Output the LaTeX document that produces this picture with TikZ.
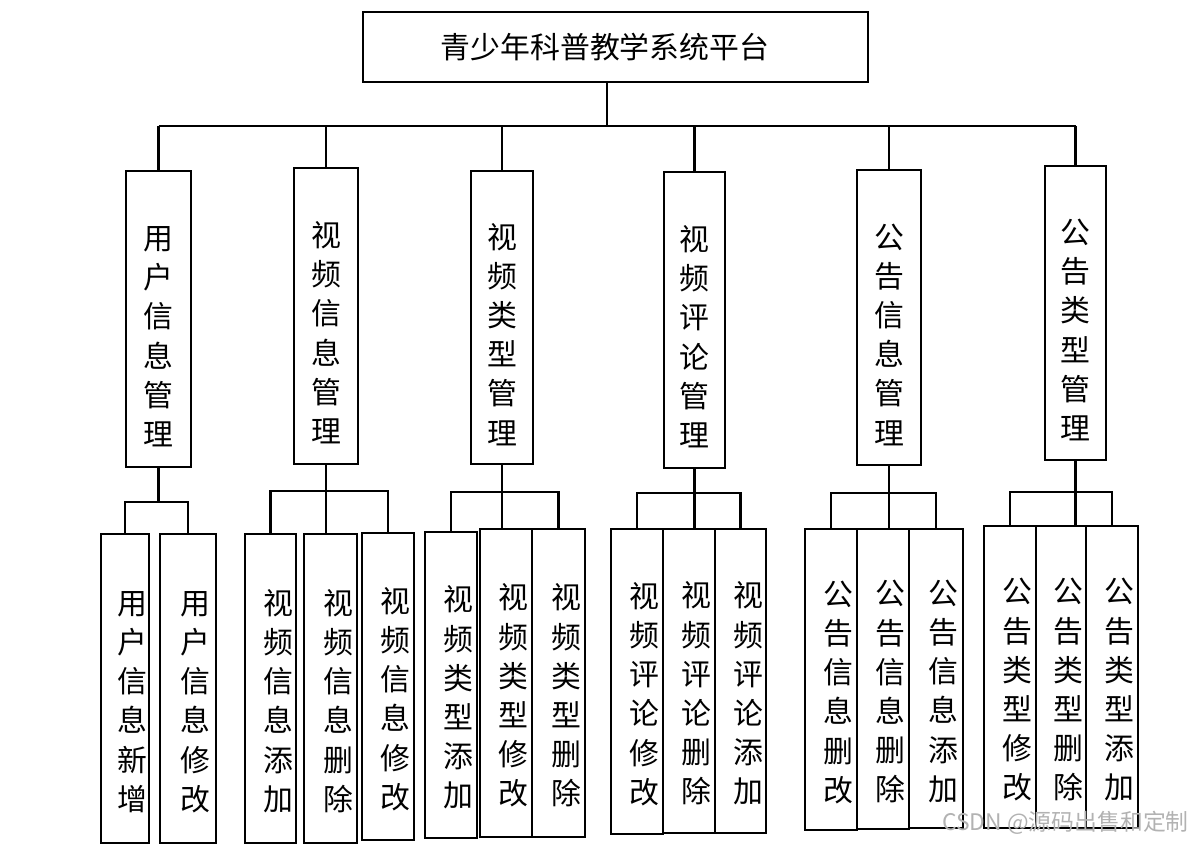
\documentclass[tikz,border=0pt]{standalone}
\usepackage{fontspec}
\newfontfamily\cjk{Noto Sans CJK SC}
\usetikzlibrary{positioning}
\newlength\pxu
\setlength\pxu{0.02cm}

\tikzset{
  box/.style={draw,line width=1.3pt,inner sep=0pt,font=\cjk\fontsize{17}{22.3}\selectfont},
  mgr/.style={box,align=center,text depth=0pt,text height=144pt},
  leaf/.style={box,text width=26pt,align=right,text depth=84.4pt,text height=0pt}
}

\begin{document}
\begin{tikzpicture}[x=0.02cm,y=-0.02cm]
\useasboundingbox (0,0) rectangle (1197,844);
% top
\node[box,minimum width=505\pxu,minimum height=70\pxu,text width=199pt,align=left] (plat) at (615.5,47) {青少年科普教学系统平台};
% second level
\node[mgr,minimum width=65\pxu,minimum height=296\pxu] (user) at (158.5,319) {用\\户\\信\\息\\管\\理};
\node[mgr,minimum width=64\pxu,minimum height=296\pxu] (vinfo) at (326,316) {视\\频\\信\\息\\管\\理};
\node[mgr,minimum width=62\pxu,minimum height=293\pxu] (vtype) at (502,317.5) {视\\频\\类\\型\\管\\理};
\node[mgr,minimum width=61\pxu,minimum height=296\pxu] (vcomm) at (694.5,320) {视\\频\\评\\论\\管\\理};
\node[mgr,minimum width=64\pxu,minimum height=295\pxu] (ninfo) at (889,317.5) {公\\告\\信\\息\\管\\理};
\node[mgr,minimum width=61\pxu,minimum height=294\pxu] (ntype) at (1075.5,313) {公\\告\\类\\型\\管\\理};
% third level
\node[leaf,minimum width=48\pxu,minimum height=309\pxu] (user1) at (125,688.5) {用\\户\\信\\息\\新\\增};
\node[leaf,minimum width=56\pxu,minimum height=309\pxu] (user2) at (188,688.5) {用\\户\\信\\息\\修\\改};
\node[leaf,minimum width=51\pxu,minimum height=309\pxu] (vinfo1) at (270.5,688.5) {视\\频\\信\\息\\添\\加};
\node[leaf,minimum width=53\pxu,minimum height=309\pxu] (vinfo2) at (330.5,688.5) {视\\频\\信\\息\\删\\除};
\node[leaf,minimum width=52\pxu,minimum height=307\pxu] (vinfo3) at (388,686.5) {视\\频\\信\\息\\修\\改};
\node[leaf,minimum width=52\pxu,minimum height=306\pxu] (vtype1) at (451,685) {视\\频\\类\\型\\添\\加};
\node[leaf,minimum width=52\pxu,minimum height=308\pxu] (vtype2) at (506,683) {视\\频\\类\\型\\修\\改};
\node[leaf,minimum width=53\pxu,minimum height=308\pxu] (vtype3) at (558.5,683) {视\\频\\类\\型\\删\\除};
\node[leaf,minimum width=52\pxu,minimum height=305\pxu] (vcomm1) at (637,681.5) {视\\频\\评\\论\\修\\改};
\node[leaf,minimum width=52\pxu,minimum height=304\pxu] (vcomm2) at (689,681) {视\\频\\评\\论\\删\\除};
\node[leaf,minimum width=51\pxu,minimum height=304\pxu] (vcomm3) at (740.5,681) {视\\频\\评\\论\\添\\加};
\node[leaf,minimum width=52\pxu,minimum height=301\pxu] (ninfo1) at (831,679.5) {公\\告\\信\\息\\删\\改};
\node[leaf,minimum width=52\pxu,minimum height=300\pxu] (ninfo2) at (883,679) {公\\告\\信\\息\\删\\除};
\node[leaf,minimum width=54\pxu,minimum height=299\pxu] (ninfo3) at (936,678.5) {公\\告\\信\\息\\添\\加};
\node[leaf,minimum width=52\pxu,minimum height=302\pxu] (ntype1) at (1010,677) {公\\告\\类\\型\\修\\改};
\node[leaf,minimum width=50\pxu,minimum height=302\pxu] (ntype2) at (1061,677) {公\\告\\类\\型\\删\\除};
\node[leaf,minimum width=52\pxu,minimum height=302\pxu] (ntype3) at (1112,677) {公\\告\\类\\型\\添\\加};
\node[font=\cjk\fontsize{13}{13}\selectfont,text=black!30,anchor=east] (mark) at (1195,823) {CSDN @源码出售和定制};
% connectors
\coordinate (hub) at (607,126);
\draw[line width=1.3pt] (hub) -- (hub |- plat.south);
\draw[line width=1.3pt] (user.north |- hub) -- (ntype.north |- hub);
\foreach \p in {user,vinfo,vtype,vcomm,ninfo,ntype}
  \draw[line width=1.3pt] (\p.north) -- (\p.north |- hub);
\draw[line width=1.3pt] (user.south) -- (user.south |- 0,502);
\draw[line width=1.3pt] (user1.north) |- (user2.north |- 0,502) -- (user2.north);
\foreach \p/\y in {vinfo/491,vtype/492,vcomm/493,ninfo/493,ntype/492}{
  \draw[line width=1.3pt] (\p.south) -- (\p.south |- \p2.north);
  \draw[line width=1.3pt] (\p1.north) |- (\p3.north |- 0,\y) -- (\p3.north);
}
\end{tikzpicture}
\end{document}
